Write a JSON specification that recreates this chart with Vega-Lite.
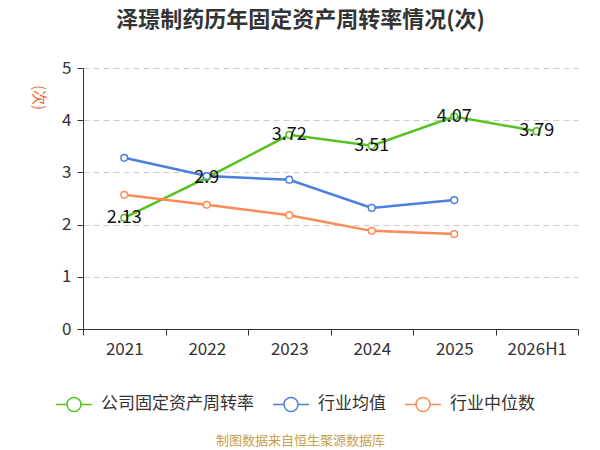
{
  "$schema": "https://vega.github.io/schema/vega-lite/v6.json",
  "autosize": {"type": "none"},
  "width": 495,
  "height": 261,
  "padding": {"left": 83, "top": 68, "right": 22, "bottom": 121},
  "background": "white",
  "config": {
    "font": "Noto Sans CJK SC",
    "view": {"stroke": null}
  },
  "title": {
    "text": "泽璟制药历年固定资产周转率情况(次)",
    "fontSize": 22,
    "fontWeight": "bold",
    "color": "#333333",
    "anchor": "middle",
    "dx": -30,
    "offset": 27
  },
  "data": {
    "values": [
      {"year": "2021", "series": "公司固定资产周转率", "value": 2.13},
      {"year": "2022", "series": "公司固定资产周转率", "value": 2.9},
      {"year": "2023", "series": "公司固定资产周转率", "value": 3.72},
      {"year": "2024", "series": "公司固定资产周转率", "value": 3.51},
      {"year": "2025", "series": "公司固定资产周转率", "value": 4.07},
      {"year": "2026H1", "series": "公司固定资产周转率", "value": 3.79},
      {"year": "2021", "series": "行业均值", "value": 3.28},
      {"year": "2022", "series": "行业均值", "value": 2.93},
      {"year": "2023", "series": "行业均值", "value": 2.86},
      {"year": "2024", "series": "行业均值", "value": 2.32},
      {"year": "2025", "series": "行业均值", "value": 2.47},
      {"year": "2021", "series": "行业中位数", "value": 2.57},
      {"year": "2022", "series": "行业中位数", "value": 2.38},
      {"year": "2023", "series": "行业中位数", "value": 2.18},
      {"year": "2024", "series": "行业中位数", "value": 1.88},
      {"year": "2025", "series": "行业中位数", "value": 1.82}
    ]
  },
  "encoding": {
    "x": {
      "field": "year",
      "type": "nominal",
      "sort": null,
      "scale": {"type": "band", "paddingInner": 0, "paddingOuter": 0},
      "axis": {
        "title": "制图数据来自恒生聚源数据库",
        "titleColor": "#c9a04a",
        "titleFontSize": 13,
        "titleFontWeight": "normal",
        "titleX": 217,
        "titleY": 111,
        "titleAlign": "center",
        "titleBaseline": "middle",
        "labelAngle": 0,
        "labelFontSize": 17,
        "labelColor": "#333333",
        "labelPadding": 6,
        "tickBand": "extent",
        "tickSize": 6,
        "tickColor": "#333333",
        "domainColor": "#333333",
        "grid": false
      }
    },
    "y": {
      "field": "value",
      "type": "quantitative",
      "scale": {"domain": [0, 5], "nice": false},
      "axis": {
        "title": "(次)",
        "titleColor": "#f26b3a",
        "titleFontSize": 15,
        "titleFontWeight": "normal",
        "titleAngle": 90,
        "titleX": -45,
        "titleY": 29,
        "titleAlign": "center",
        "titleBaseline": "middle",
        "values": [0, 1, 2, 3, 4, 5],
        "labelFontSize": 17,
        "labelColor": "#333333",
        "labelPadding": 6,
        "tickSize": 6,
        "tickColor": "#333333",
        "domainColor": "#333333",
        "gridColor": "#cccccc",
        "gridDash": [6, 4]
      }
    },
    "color": {
      "field": "series",
      "type": "nominal",
      "scale": {
        "domain": ["公司固定资产周转率", "行业均值", "行业中位数"],
        "range": ["#55c21f", "#4a7fe0", "#ff8a57"]
      },
      "legend": {
        "title": null,
        "orient": "none",
        "direction": "horizontal",
        "legendX": -28,
        "legendY": 317,
        "symbolType": "M-1,0L-0.39,0M0.39,0L1,0M-0.39,0A0.39,0.39,0,1,1,0.39,0A0.39,0.39,0,1,1,-0.39,0",
        "symbolSize": 1296,
        "symbolStrokeWidth": 1.5,
        "labelFontSize": 17,
        "labelColor": "#333333",
        "labelOffset": 8,
        "columnPadding": 16,
        "encode": {
          "symbols": {"update": {"fill": {"value": "white"}, "opacity": {"value": 1}}}
        }
      }
    }
  },
  "layer": [
    {
      "mark": {"type": "line", "strokeWidth": 2.5}
    },
    {
      "mark": {"type": "point", "shape": "circle", "filled": false, "fill": "white", "opacity": 1, "size": 45, "strokeWidth": 1.5}
    },
    {
      "transform": [{"filter": "datum.series === '公司固定资产周转率'"}],
      "mark": {"type": "text", "fontSize": 18, "baseline": "middle", "align": "center"},
      "encoding": {
        "text": {"field": "value", "type": "quantitative"},
        "color": {"value": "#111111"}
      }
    }
  ]
}
